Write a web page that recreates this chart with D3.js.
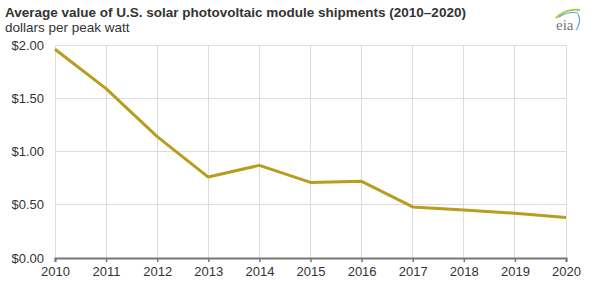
<!DOCTYPE html>
<html><head><meta charset="utf-8">
<script src="https://cdn.jsdelivr.net/npm/d3@7"></script>
<style>body{margin:0;background:#fff;}svg{display:block;font-family:"Liberation Sans",Arial,sans-serif;}</style>
</head><body>
<svg id="c" width="597" height="282"></svg>
<script>
const years = [2010,2011,2012,2013,2014,2015,2016,2017,2018,2019,2020];
const values = [1.96,1.59,1.14,0.76,0.87,0.71,0.72,0.48,0.45,0.42,0.38];
const yTicks = [0,0.5,1,1.5,2];
const title = "Average value of U.S. solar photovoltaic module shipments (2010–2020)";
const subtitle = "dollars per peak watt";

const svg = d3.select("#c");
const x = d3.scaleLinear().domain([2010,2020]).range([55,566]);
const y = d3.scaleLinear().domain([0,2]).range([258,45]);

svg.append("text").attr("x",5).attr("y",17).attr("font-size",13.5).attr("font-weight","bold").attr("fill","#333").text(title);
svg.append("text").attr("x",5).attr("y",32).attr("font-size",13.5).attr("fill","#333").text(subtitle);

// grid
svg.append("g").selectAll("line").data(years).join("line")
  .attr("x1",d=>x(d)).attr("x2",d=>x(d)).attr("y1",y(2)).attr("y2",y(0))
  .attr("stroke","#ddd").attr("stroke-width",1).attr("shape-rendering","crispEdges");
svg.append("g").selectAll("line").data(yTicks.filter(d=>d>0)).join("line")
  .attr("x1",x(2010)).attr("x2",x(2020)).attr("y1",d=>y(d)).attr("y2",d=>y(d))
  .attr("stroke","#ddd").attr("stroke-width",1).attr("shape-rendering","crispEdges");

// y labels
svg.append("g").selectAll("text").data(yTicks).join("text")
  .attr("x",44).attr("y",d=>y(d)+4.5).attr("text-anchor","end").attr("font-size",13).attr("fill","#333")
  .text(d=>"$"+d.toFixed(2));

// x axis
const xAxis = svg.append("g").attr("transform",`translate(0,${y(0)})`)
  .call(d3.axisBottom(x).tickValues(years).tickFormat(d3.format("d")).tickSize(4).tickPadding(5));
xAxis.select(".domain").attr("stroke","#777").attr("stroke-width",2);
xAxis.selectAll(".tick line").attr("stroke","#777").attr("stroke-width",1.5);
xAxis.selectAll(".tick text").attr("font-size",13).attr("fill","#333").attr("font-family","Liberation Sans, Arial, sans-serif");

// line
svg.append("path").datum(years.map((d,i)=>[d,values[i]]))
  .attr("d",d3.line().x(d=>x(d[0])).y(d=>y(d[1])))
  .attr("fill","none").attr("stroke","#b99d1d").attr("stroke-width",3).attr("stroke-linejoin","round");

// eia logo
const lg = svg.append("g");
lg.append("path").attr("d","M556,18 Q566,8 580,10").attr("fill","none").attr("stroke","#a5cf4e").attr("stroke-width",2);
lg.append("path").attr("d","M559,17 Q568,11 578,13").attr("fill","none").attr("stroke","#5aa6d6").attr("stroke-width",1.2);
lg.append("path").attr("d","M578,14 Q582,22 576,30").attr("fill","none").attr("stroke","#5aa6d6").attr("stroke-width",1.2);
lg.append("text").attr("x",556).attr("y",30).attr("font-size",15).attr("fill","#777").attr("font-family","Liberation Serif, serif").text("eia");
</script>
</body></html>
